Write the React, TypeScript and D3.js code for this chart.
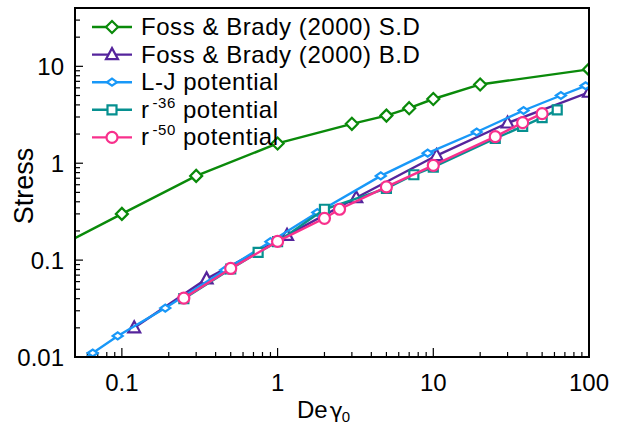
import React, { useEffect, useRef } from 'react'
import * as d3 from 'd3'

// Foss & Brady (2000) S.D
const sdX = [0.03, 0.1, 0.3, 1, 3, 5, 7, 10, 20, 100]
const sdY = [0.11, 0.3, 0.74, 1.6, 2.55, 3.1, 3.7, 4.6, 6.5, 9.3]
// Foss & Brady (2000) B.D
const bdX = [0.12, 0.35, 1.15, 3.2, 10.5, 30, 100]
const bdY = [0.02, 0.064, 0.18, 0.44, 1.2, 2.6, 5.4]
// L-J potential
const ljX = [0.047, 0.065, 0.094, 0.19, 0.46, 0.9, 1.8, 4.6, 9.2, 19, 38, 66, 95]
const ljY = [0.0078, 0.011, 0.0165, 0.032, 0.079, 0.155, 0.31, 0.74, 1.27, 2.1, 3.5, 5.0, 6.3]
// r^-36 potential
const r36X = [0.25, 0.5, 0.75, 1, 2, 5, 7.5, 10, 25, 37.5, 50, 62.5]
const r36Y = [0.04, 0.081, 0.12, 0.155, 0.335, 0.55, 0.76, 0.91, 1.8, 2.4, 2.95, 3.55]
// r^-50 potential
const r50X = [0.25, 0.5, 1, 2, 2.5, 5, 10, 25, 37.5, 50]
const r50Y = [0.0405, 0.082, 0.156, 0.27, 0.335, 0.57, 0.95, 1.88, 2.62, 3.25]

const xTicks = [0.1, 1, 10, 100]
const yTicks = [0.01, 0.1, 1, 10]

const FONT = '"Liberation Sans", Arial, Helvetica, sans-serif'

const markers: Record<string, string> = {
  diamond: 'M0,-6L6,0L0,6L-6,0Z',
  triangle: 'M0,-6.5L6,4.5L-6,4.5Z',
  flatDiamond: 'M-5,0L0,-3.5L5,0L0,3.5Z',
  square: 'M-4.5,-4.5L4.5,-4.5L4.5,4.5L-4.5,4.5Z',
}

const series = [
  { label: 'Foss & Brady (2000) S.D', xs: sdX, ys: sdY, color: '#0a8a0a', marker: 'diamond' },
  { label: 'Foss & Brady (2000) B.D', xs: bdX, ys: bdY, color: '#55249c', marker: 'triangle' },
  { label: 'L-J potential', xs: ljX, ys: ljY, color: '#1898f8', marker: 'flatDiamond' },
  { label: 'r', sup: '-36', xs: r36X, ys: r36Y, color: '#069090', marker: 'square' },
  { label: 'r', sup: '-50', xs: r50X, ys: r50Y, color: '#f8308c', marker: 'circle' },
]

const Chart: React.FC = () => {
  const ref = useRef<SVGSVGElement | null>(null)

  useEffect(() => {
    const width = 621
    const height = 424
    const left = 75
    const right = 589
    const top = 8
    const bottom = 357

    const svg = d3.select(ref.current)
    svg.selectAll('*').remove()
    svg.attr('width', width).attr('height', height)

    const x = d3.scaleLog().domain([0.05, 100]).range([left, right])
    const y = d3.scaleLog().domain([0.01, 40]).range([bottom, top])

    svg
      .append('defs')
      .append('clipPath')
      .attr('id', 'plot-clip')
      .append('rect')
      .attr('x', left)
      .attr('y', top)
      .attr('width', right - left)
      .attr('height', bottom - top)

    // minor + major ticks, pointing inward
    const xMinor: number[] = []
    for (let e = -2; e <= 1; e++) {
      for (let m = 1; m <= 9; m++) {
        const v = m * Math.pow(10, e)
        if (v >= 0.05 && v <= 100) xMinor.push(v)
      }
    }
    const yMinor: number[] = []
    for (let e = -2; e <= 1; e++) {
      for (let m = 1; m <= 9; m++) {
        const v = m * Math.pow(10, e)
        if (v >= 0.01 && v <= 40) yMinor.push(v)
      }
    }
    const isMajor = (v: number) => Math.abs(Math.log10(v) - Math.round(Math.log10(v))) < 1e-6

    const ticks = svg.append('g').attr('stroke', '#000').attr('stroke-width', 1.2)
    xMinor.forEach((v) => {
      ticks
        .append('line')
        .attr('x1', x(v))
        .attr('x2', x(v))
        .attr('y1', bottom)
        .attr('y2', bottom - (isMajor(v) ? 9 : 5))
    })
    yMinor.forEach((v) => {
      ticks
        .append('line')
        .attr('x1', left)
        .attr('x2', left + (isMajor(v) ? 8 : 5))
        .attr('y1', y(v))
        .attr('y2', y(v))
    })

    // tick labels
    svg
      .append('g')
      .selectAll('text')
      .data(xTicks)
      .enter()
      .append('text')
      .attr('x', (d) => x(d))
      .attr('y', 391)
      .attr('text-anchor', 'middle')
      .attr('font-family', FONT)
      .attr('font-size', 24)
      .text((d) => String(d))

    svg
      .append('g')
      .selectAll('text')
      .data(yTicks)
      .enter()
      .append('text')
      .attr('x', 64)
      .attr('y', (d) => y(d) + 9)
      .attr('text-anchor', 'end')
      .attr('font-family', FONT)
      .attr('font-size', 24)
      .text((d) => String(d))

    // axis titles
    svg
      .append('text')
      .attr('transform', 'translate(33,186) rotate(-90)')
      .attr('text-anchor', 'middle')
      .attr('font-family', FONT)
      .attr('font-size', 27)
      .text('Stress')

    const xt = svg
      .append('text')
      .attr('x', 297)
      .attr('y', 418)
      .attr('font-family', FONT)
      .attr('font-size', 24)
    xt.append('tspan').text('De')
    xt.append('tspan').attr('dx', 2).attr('font-family', '"DejaVu Sans", sans-serif').attr('font-size', 22).text('γ')
    xt.append('tspan').attr('dx', -1).attr('dy', 4).attr('font-size', 15).text('0')

    // series
    const plot = svg.append('g').attr('clip-path', 'url(#plot-clip)')
    const line = d3
      .line<[number, number]>()
      .x((d) => x(d[0]))
      .y((d) => y(d[1]))

    const drawMarker = (g: any, s: any, cx: number, cy: number) => {
      if (s.marker === 'circle') {
        g.append('circle')
          .attr('cx', cx)
          .attr('cy', cy)
          .attr('r', 5.5)
          .attr('fill', '#fff')
          .attr('stroke', s.color)
          .attr('stroke-width', 2.2)
      } else {
        g.append('path')
          .attr('d', markers[s.marker])
          .attr('transform', `translate(${cx},${cy})`)
          .attr('fill', '#fff')
          .attr('stroke', s.color)
          .attr('stroke-width', 2.2)
      }
    }

    series.forEach((s) => {
      const pts = s.xs.map((v, i) => [v, s.ys[i]] as [number, number])
      plot
        .append('path')
        .attr('d', line(pts))
        .attr('fill', 'none')
        .attr('stroke', s.color)
        .attr('stroke-width', 2.4)
      pts.forEach((p) => drawMarker(plot, s, x(p[0]), y(p[1])))
    })

    // legend
    const legend = svg.append('g')
    series.forEach((s, i) => {
      const cy = 27 + i * 27.6
      legend
        .append('line')
        .attr('x1', 92)
        .attr('x2', 132)
        .attr('y1', cy)
        .attr('y2', cy)
        .attr('stroke', s.color)
        .attr('stroke-width', 2.4)
      drawMarker(legend, s, 112, cy)
      const t = legend
        .append('text')
        .attr('x', 141)
        .attr('y', cy + 8)
        .attr('font-family', FONT)
        .attr('font-size', 24)
        .attr('letter-spacing', 0.55)
      t.append('tspan').text(s.label)
      if (s.sup) {
        t.append('tspan').attr('dx', 3).attr('dy', -10).attr('font-size', 15).text(s.sup)
        t.append('tspan').attr('dx', 7).attr('dy', 10).text('potential')
      }
    })

    // frame
    svg
      .append('rect')
      .attr('x', left)
      .attr('y', top)
      .attr('width', right - left)
      .attr('height', bottom - top)
      .attr('fill', 'none')
      .attr('stroke', '#000')
      .attr('stroke-width', 2)
  }, [])

  return <svg ref={ref} style={{ position: 'absolute', left: 0, top: 0 }}></svg>
}

export default function App() {
  return <Chart />
}
